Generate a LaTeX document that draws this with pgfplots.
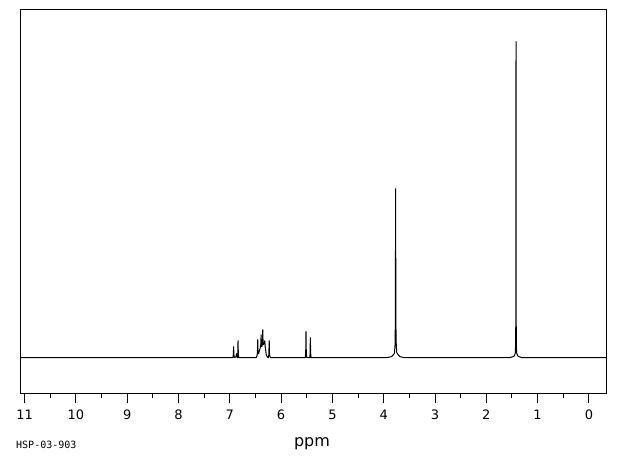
\documentclass[border=0pt]{standalone}
\usepackage{fontspec}
\setmainfont{DejaVu Sans}
\newfontfamily\monofont{DejaVu Sans Mono}
\usepackage{pgfplots}
\usepackage{pgfplotstable}
\pgfplotsset{compat=1.18}
\pgfplotstableread{
ppm h
11.08 0
7.00 0
6.94 0
6.932 3
6.926 11
6.920 3
6.91 0
6.88 1
6.87 4
6.86 1
6.85 0
6.846 4
6.840 17
6.834 4
6.825 0
6.49 0
6.47 2
6.462 5
6.456 18
6.450 5
6.44 4
6.43 6
6.42 8
6.41 9
6.398 12
6.390 23
6.384 12
6.375 11
6.365 14
6.358 28
6.352 16
6.345 13
6.335 14
6.325 15
6.318 17
6.312 12
6.30 7
6.29 3
6.27 1
6.25 0
6.24 3
6.232 17
6.226 3
6.21 0
5.53 0
5.521 4
5.515 26
5.509 4
5.50 0
5.44 0
5.436 4
5.430 20
5.424 4
5.415 0
3.95 0
3.85 1
3.81 3
3.79 5
3.78 12
3.773 35
3.768 169
3.763 35
3.755 12
3.745 5
3.72 3
3.68 1
3.60 0
1.55 0
1.48 1
1.45 2
1.435 5
1.428 14
1.424 48
1.421 316
1.418 45
1.414 12
1.41 5
1.39 2
1.36 1
1.30 0
-0.35 0
}\spectrum
\begin{document}
\begin{tikzpicture}[x=1pt,y=1pt]
\useasboundingbox (-20.7,-61.7) rectangle (599.3,393.3);
\begin{axis}[
  at={(0,0)}, anchor=south west,
  scale only axis, width=586pt, height=383.3pt,
  x dir=reverse, xmin=-0.347, xmax=11.077,
  ymin=-35.6, ymax=347.7,
  xtick={0,1,2,3,4,5,6,7,8,9,10,11},
  minor xtick={0.5,1.5,2.5,3.5,4.5,5.5,6.5,7.5,8.5,9.5,10.5},
  xtick pos=bottom, xtick align=outside,
  major tick length=10pt, minor tick length=5pt,
  ytick=\empty,
  tick style={black, line width=1pt},
  axis line style={line width=1pt},
  /pgf/number format/assume math mode=true,
  xticklabel style={font=\fontsize{13}{15}\selectfont, inner sep=0pt, anchor=north, yshift=-6.7pt},
  clip=true,
]
\addplot[black, line width=1pt, line join=round, mark=none] table[x=ppm, y=h] {\spectrum};
\end{axis}
\node[anchor=base, font=\fontsize{16}{18}\selectfont, inner sep=0pt] at (291.3,-52.7) {ppm};
\node[anchor=base west, font=\monofont\fontsize{10}{12}\selectfont, inner sep=0pt] at (-4.7,-54.7) {HSP-03-903};
\end{tikzpicture}
\end{document}
